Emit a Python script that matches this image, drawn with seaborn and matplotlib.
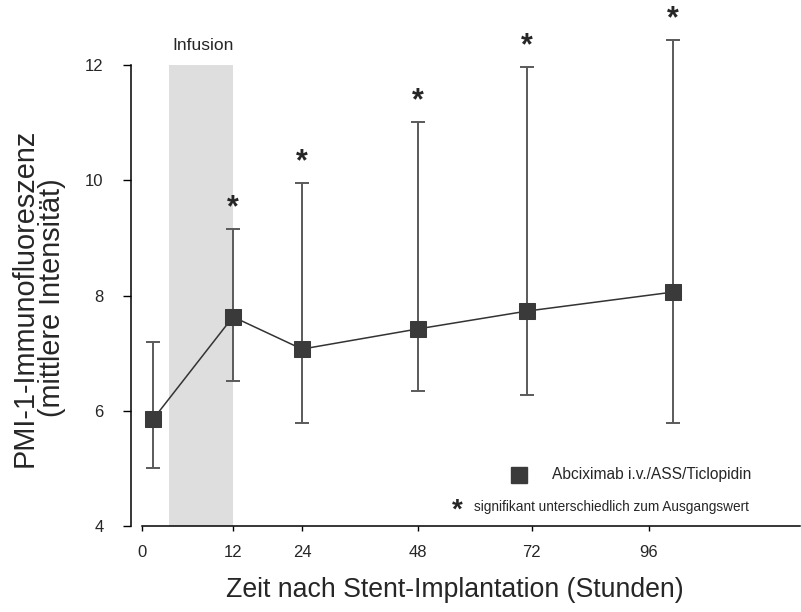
import numpy as np
import pandas as pd
import matplotlib
matplotlib.use("Agg")
import matplotlib.pyplot as plt
import seaborn as sns

# Sampling times (hours after stent implantation) and PMI-1 fluorescence
hours = [1.5, 12, 24, 48, 71, 101]
mean = [5.86, 7.63, 7.07, 7.42, 7.73, 8.06]
upper = [7.19, 9.16, 9.95, 11.01, 11.97, 12.44]
lower = [5.00, 6.52, 5.79, 6.34, 6.27, 5.79]
significant = [False, True, True, True, True, True]

tick_hours = [0, 12, 24, 48, 72, 96]
tick_labels = ["0", "12", "24", "48", "72", "96"]
y_ticks = [4, 6, 8, 10, 12]
infusion_start, infusion_end = 3.5, 12

series_label = "Abciximab i.v./ASS/Ticlopidin"
note_label = "signifikant unterschiedlich zum Ausgangswert"

df = pd.DataFrame({"Stunden": hours, "PMI": mean})

sns.set_style("white")
plt.rcParams["font.family"] = ["Liberation Sans", "DejaVu Sans"]

fig = plt.figure(figsize=(8.01, 6.12), dpi=100)
W, H = 801, 612
ax = fig.add_axes([142 / W, 1 - 526 / H, (800 - 142) / W, (526 - 65) / H])

# uneven time axis: piecewise-linear spacing between the labelled hours
knot_h = np.array([-100, 0, 12, 24, 48, 72, 96, 400], dtype=float)
knot_p = np.array([-100 * 91 / 12, 0, 91, 160, 276, 390, 507,
                   507 + 304 * 117 / 24], dtype=float)


def fwd(h):
    return np.interp(h, knot_h, knot_p)


def inv(p):
    return np.interp(p, knot_p, knot_h)


ax.set_xscale("function", functions=(fwd, inv))
ax.set_xlim(0, 127)
ax.set_ylim(4, 12)

# infusion period
ax.axvspan(infusion_start, infusion_end, ymin=0, ymax=1, color="#dedede",
           lw=0, zorder=0)
ax.text(8.0, 12.33, "Infusion", ha="center", va="center", fontsize=12.5,
        clip_on=False)

# error bars
m = np.array(mean)
eb = ax.errorbar(hours, mean, yerr=[m - np.array(lower), np.array(upper) - m],
                 fmt="none", ecolor="#5a5a5a", elinewidth=1.4, capsize=4.8,
                 capthick=1.4, zorder=2)
for artist in eb.lines[1] + eb.lines[2]:
    artist.set_clip_on(False)

sns.lineplot(data=df, x="Stunden", y="PMI", ax=ax, color="#333333",
             lw=1.1, marker="s", markersize=11.5, markerfacecolor="#3a3a3a",
             markeredgecolor="#3a3a3a", zorder=3, legend=False)

# significance stars
for h, u, s in zip(hours, upper, significant):
    if s:
        ax.text(h, u + 0.36, "*", ha="center", va="center", fontsize=22,
                fontweight="bold", clip_on=False)

# legend and footnote
ax.plot([0.573], [0.1115], transform=ax.transAxes, marker="s",
        markersize=11.5, color="#3a3a3a", clip_on=False)
ax.text(0.623, 0.1115, series_label, transform=ax.transAxes, ha="left",
        va="center", fontsize=11.2)
ax.text(0.479, 0.033, "*", transform=ax.transAxes, ha="center",
        va="center", fontsize=20, fontweight="bold")
ax.text(0.5046, 0.041, note_label, transform=ax.transAxes, ha="left",
        va="center", fontsize=9.8)

# axes styling
for side in ["top", "right"]:
    ax.spines[side].set_visible(False)
ax.spines["left"].set_position(("outward", 8))
for side in ["left", "bottom"]:
    ax.spines[side].set_color("black")
    ax.spines[side].set_linewidth(1.1)

ax.set_xticks(tick_hours)
ax.set_xticklabels(tick_labels)
ax.xaxis.set_minor_locator(matplotlib.ticker.NullLocator())
ax.set_yticks(y_ticks)
ax.set_yticklabels([str(v) for v in y_ticks])
ax.tick_params(axis="x", direction="out", length=3.6, width=1.0, pad=10,
               labelsize=12, bottom=True, color="black")
ax.tick_params(axis="y", direction="out", length=5.8, width=1.0, pad=14,
               labelsize=12, left=True, color="black")

ax.set_xlabel("Zeit nach Stent-Implantation (Stunden)", fontsize=19.2)
ax.xaxis.set_label_coords((455 - 142) / 658, -0.11)
ax.set_ylabel("PMI-1-Immunofluoreszenz\n(mittlere Intensität)",
              fontsize=20.8, linespacing=0.95)
ax.yaxis.set_label_coords(-0.116, 0.495)

fig.savefig("out.png", dpi=100)
